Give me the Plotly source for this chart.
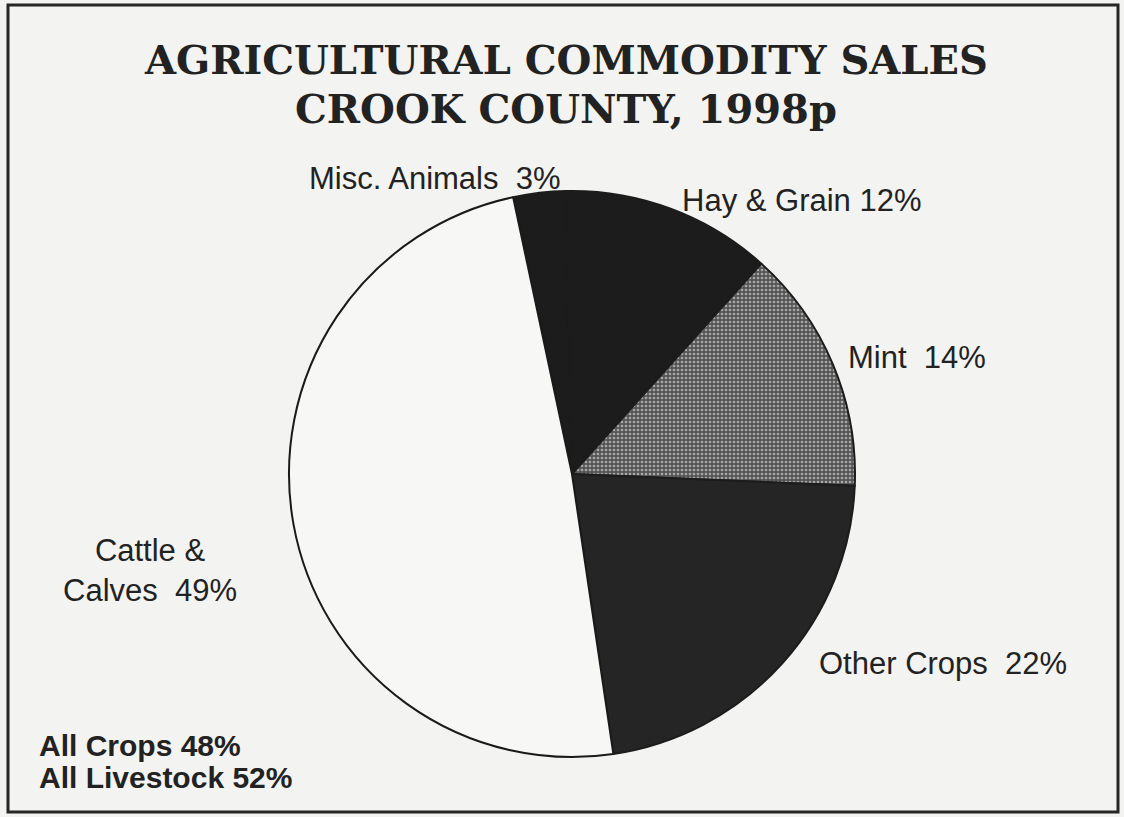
import plotly.graph_objects as go

# Commodity sales shares, Crook County 1998 (preliminary)
categories = ["Misc. Animals", "Hay & Grain", "Mint", "Other Crops", "Cattle & Calves"]
shares = [3, 12, 14, 22, 49]
slice_colors = ["#1c1c1c", "#1c1c1c", "#5e5e5e", "#252525", "#f7f7f5"]
edge_colors = ["#1c1c1c", "#1c1c1c", "#1c1c1c", "#1c1c1c", "#1a1a1a"]
pattern_shapes = ["", "", ".", "", ""]

crop_groups = ["Hay & Grain", "Mint", "Other Crops"]
livestock_groups = ["Misc. Animals", "Cattle & Calves"]

W, H = 1124, 817
BG = "#f3f3f1"
INK = "#222222"

fig = go.Figure()
fig.add_trace(go.Pie(
    labels=categories,
    values=shares,
    sort=False,
    direction="clockwise",
    rotation=-12,
    textinfo="none",
    hoverinfo="label+percent",
    showlegend=False,
    marker=dict(
        colors=slice_colors,
        line=dict(color=edge_colors, width=2),
        pattern=dict(shape=pattern_shapes, fgcolor="#a8a8a8", bgcolor="#555555",
                     size=4, solidity=0.35),
    ),
    domain=dict(x=[(572 - 283) / W, (572 + 283) / W],
                y=[(H - 474 - 283) / H, (H - 474 + 283) / H]),
))


def px(x, y):
    return x / W, 1 - y / H


share = dict(zip(categories, shares))
label_font = dict(family="Liberation Sans, Arial, sans-serif", size=31, color=INK)

# slice labels placed around the pie
slice_labels = [
    ("Misc. Animals", f"Misc. Animals  {share['Misc. Animals']}%", 307, 178, "left"),
    ("Hay & Grain", f"Hay & Grain {share['Hay & Grain']}%", 680, 200, "left"),
    ("Mint", f"Mint  {share['Mint']}%", 846, 357, "left"),
    ("Other Crops", f"Other Crops  {share['Other Crops']}%", 817, 663, "left"),
    ("Cattle & Calves", f"Cattle &<br>Calves  {share['Cattle & Calves']}%", 150, 570, "center"),
]
for _, text, x, y, anchor in slice_labels:
    ax, ay = px(x, y)
    fig.add_annotation(x=ax, y=ay, xref="paper", yref="paper", text=text,
                       showarrow=False, xanchor=anchor, yanchor="middle",
                       align="center", font=label_font)

crops_total = sum(share[c] for c in crop_groups)
livestock_total = sum(share[c] for c in livestock_groups)
bold_font = dict(family="Liberation Sans, Arial, sans-serif", size=30, color=INK)
for text, y in [(f"<b>All Crops {crops_total}%</b>", 745),
                (f"<b>All Livestock {livestock_total}%</b>", 777)]:
    ax, ay = px(37, y)
    fig.add_annotation(x=ax, y=ay, xref="paper", yref="paper", text=text,
                       showarrow=False, xanchor="left", yanchor="middle", font=bold_font)

title_font = dict(family="DejaVu Serif, serif", size=40, color=INK)
for text, y in [("<b>AGRICULTURAL COMMODITY SALES</b>", 60),
                ("<b>CROOK COUNTY, 1998p</b>", 108)]:
    ax, ay = px(566, y)
    fig.add_annotation(x=ax, y=ay, xref="paper", yref="paper", text=text,
                       showarrow=False, xanchor="center", yanchor="middle", font=title_font)

# outer frame
fig.add_shape(type="rect", xref="paper", yref="paper",
              x0=8 / W, x1=1118 / W, y0=1 - 812 / H, y1=1 - 5 / H,
              line=dict(color="#262626", width=3), fillcolor="rgba(0,0,0,0)")

fig.update_layout(
    width=W, height=H,
    margin=dict(l=0, r=0, t=0, b=0),
    paper_bgcolor=BG, plot_bgcolor=BG,
)

fig.write_html("out.html")
